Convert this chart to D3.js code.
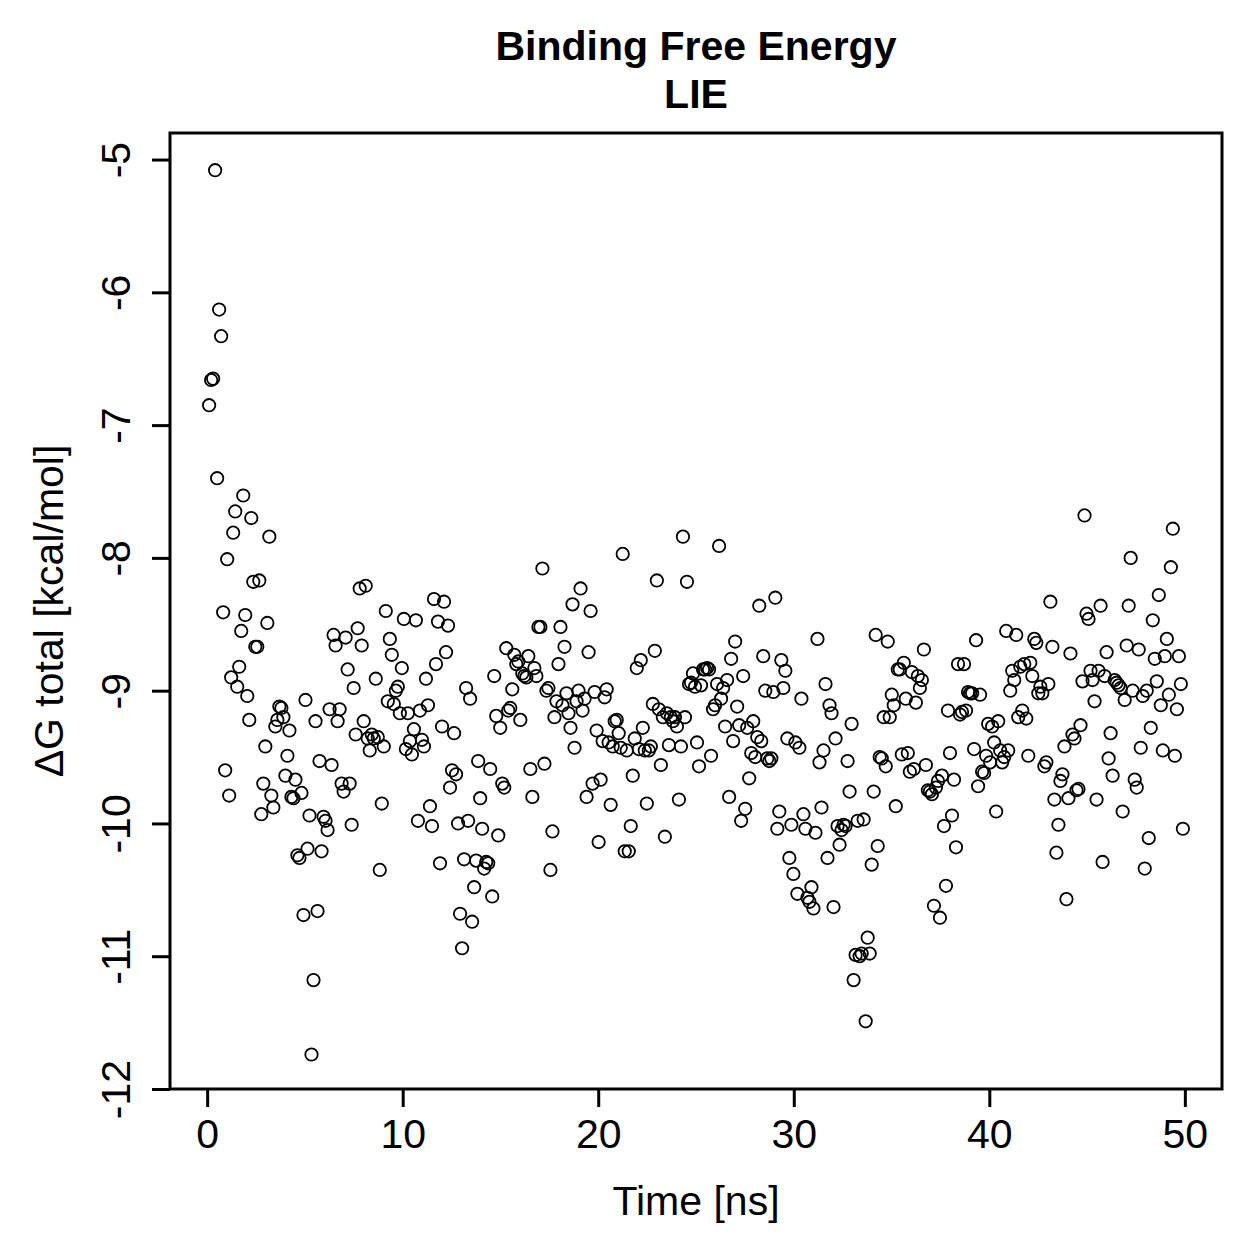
<!DOCTYPE html>
<html>
<head>
<meta charset="utf-8">
<script src="https://cdn.jsdelivr.net/npm/d3@7"></script>
<style>
  body { margin: 0; background: #fff; }
  svg text { font-family: "Liberation Sans", Arial, Helvetica, sans-serif; fill: #000; }
</style>
</head>
<body>
<div class="chart"></div>
<script>
const width = 1259
const height = 1259

// LIE binding free energy per frame (kcal/mol)
const dG = [
  -6.85, -6.66, -6.65, -5.08, -7.40, -6.13, -6.33, -8.41, -9.60, -8.01,
  -9.79, -8.90, -7.81, -7.65, -8.97, -8.82, -8.55, -7.53, -8.43, -9.04,
  -9.22, -7.70, -8.18, -8.67, -8.67, -8.17, -9.93, -9.70, -9.42, -8.49,
  -7.84, -9.79, -9.88, -9.27, -9.22, -9.12, -9.13, -9.20, -9.64, -9.49,
  -9.30, -9.80, -9.81, -9.67, -10.24, -10.26, -9.77, -10.69, -9.07, -10.19,
  -9.94, -11.74, -11.18, -9.23, -10.66, -9.53, -10.21, -9.95, -9.98, -10.05,
  -9.14, -9.56, -8.58, -8.66, -9.23, -9.14, -9.70, -9.76, -8.60, -8.84,
  -9.70, -10.01, -8.98, -9.33, -8.53, -8.23, -8.66, -9.23, -8.21, -9.36,
  -9.45, -9.33, -9.36, -8.91, -9.35, -10.35, -9.85, -9.42, -8.40, -9.08,
  -8.61, -8.73, -9.10, -9.00, -8.97, -9.17, -8.83, -8.46, -9.44, -9.17,
  -9.38, -9.48, -9.29, -8.47, -9.98, -9.15, -9.37, -9.42, -8.91, -9.11,
  -9.87, -10.02, -8.31, -8.80, -8.48, -10.30, -9.27, -8.33, -8.71, -8.51,
  -9.73, -9.60, -9.32, -9.63, -10.00, -10.68, -10.94, -10.27, -8.98, -9.98,
  -9.06, -10.74, -10.48, -10.28, -9.53, -9.81, -10.04, -10.34, -10.29, -10.30,
  -9.59, -10.55, -8.89, -9.19, -10.09, -9.28, -9.70, -9.73, -8.68, -9.15,
  -9.13, -8.99, -8.73, -8.80, -8.78, -9.22, -8.87, -8.89, -8.90, -8.74,
  -9.59, -9.80, -8.83, -8.89, -8.52, -8.52, -8.08, -9.55, -9.00, -8.98,
  -10.35, -10.06, -9.20, -9.08, -8.80, -8.52, -9.11, -8.67, -9.02, -9.17,
  -9.28, -8.35, -9.43, -9.08, -9.00, -8.23, -9.15, -9.06, -9.80, -8.71,
  -8.40, -9.70, -9.01, -9.30, -10.14, -9.67, -9.38, -9.05, -8.99, -9.39,
  -9.86, -9.42, -9.23, -9.22, -9.32, -9.43, -7.97, -10.21, -9.45, -10.21,
  -10.02, -9.64, -9.36, -8.83, -9.44, -8.77, -9.28, -9.45, -9.85, -9.45,
  -9.42, -9.10, -8.70, -8.17, -9.14, -9.56, -9.20, -10.10, -9.17, -9.41,
  -9.20, -9.23, -9.20, -9.27, -9.82, -9.42, -7.84, -9.20, -8.18, -8.95,
  -8.94, -8.87, -8.97, -9.39, -9.57, -8.96, -8.84, -8.84, -8.83, -8.84,
  -9.49, -9.14, -9.11, -8.95, -7.91, -9.06, -8.98, -9.27, -8.92, -9.80,
  -8.76, -9.38, -8.63, -9.12, -9.26, -9.98, -8.89, -9.89, -9.28, -9.66,
  -9.47, -9.23, -9.50, -9.35, -8.36, -9.38, -8.74, -9.00, -9.51, -9.53,
  -9.51, -9.01, -8.30, -10.04, -9.91, -8.77, -8.98, -8.85, -9.36, -10.26,
  -10.01, -10.38, -9.39, -10.53, -9.43, -9.06, -9.93, -10.04, -10.56, -10.59,
  -10.48, -10.64, -10.07, -8.61, -9.54, -9.88, -9.45, -8.95, -10.26, -9.11,
  -9.17, -10.63, -9.36, -10.02, -10.16, -10.05, -10.01, -10.02, -9.53, -9.76,
  -9.25, -11.18, -10.99, -9.98, -11.00, -10.98, -9.97, -11.49, -10.86, -10.98,
  -10.31, -9.76, -8.58, -10.17, -9.50, -9.51, -9.20, -9.57, -8.63, -9.20,
  -9.03, -9.11, -9.87, -8.84, -8.84, -9.48, -8.79, -9.06, -9.47, -9.61,
  -8.86, -9.59, -9.09, -8.89, -8.98, -8.92, -8.69, -9.56, -9.75, -9.76,
  -9.78, -10.62, -9.73, -9.68, -10.71, -9.64, -10.02, -10.47, -9.15, -9.47,
  -9.94, -9.67, -10.18, -8.80, -9.18, -9.16, -8.80, -9.15, -9.01, -9.02,
  -9.02, -9.44, -8.62, -9.72, -9.03, -9.61, -9.62, -9.49, -9.25, -9.54,
  -9.27, -9.39, -9.91, -9.23, -9.45, -9.54, -9.50, -8.55, -9.45, -9.00,
  -8.85, -8.92, -8.58, -9.20, -8.82, -9.15, -8.80, -9.21, -9.49, -8.79,
  -8.89, -8.61, -8.64, -9.02, -8.97, -9.02, -9.57, -9.54, -8.95, -8.33,
  -8.67, -9.82, -10.22, -10.01, -9.68, -9.63, -9.42, -10.57, -9.81, -8.72,
  -9.33, -9.36, -9.75, -9.74, -9.26, -8.93, -7.68, -8.42, -8.46, -8.85,
  -8.92, -9.08, -9.82, -8.85, -8.36, -10.29, -8.89, -8.71, -9.51, -9.32,
  -9.64, -8.92, -8.94, -8.96, -8.98, -9.91, -9.07, -8.66, -8.36, -8.00,
  -9.00, -9.67, -9.73, -8.69, -9.43, -9.04, -10.34, -9.00, -10.11, -9.28,
  -8.47, -8.76, -8.93, -8.28, -9.11, -9.45, -8.74, -8.61, -9.03, -8.07,
  -7.78, -9.49, -9.14, -8.74, -8.95, -10.04
]

// frames are sampled evenly over the run (ns)
const timeFirst = 0.1
const timeLast = 49.9
const time = dG.map((d, i) => timeFirst + i * (timeLast - timeFirst) / (dG.length - 1))

const xTicks = [0, 10, 20, 30, 40, 50]
const yTicks = [-12, -11, -10, -9, -8, -7, -6, -5]
const titleLines = ["Binding Free Energy", "LIE"]
const xLabel = "Time [ns]"
const yLabel = "\u0394G total [kcal/mol]"

// plot region (R style box)
const box = { left: 170, right: 1222, top: 133, bottom: 1089 }

const svg = d3.select('.chart')
    .append('svg')
    .attr('width', width)
    .attr('height', height)

const x = d3.scaleLinear()
    .domain([-1.9, 51.9])
    .range([box.left, box.right])

const y = d3.scaleLinear()
    .domain([-12, -4.8])
    .range([box.bottom, box.top])

// points
svg.append("g")
    .selectAll("circle")
    .data(dG)
    .join("circle")
        .attr("cx", (d, i) => x(time[i]))
        .attr("cy", d => y(d))
        .attr("r", 6.2)
        .attr("fill", "none")
        .attr("stroke", "#000")
        .attr("stroke-width", 1.8)

// x axis
const xAxis = svg.append("g")
    .attr("transform", `translate(0, ${box.bottom})`)
    .call(d3.axisBottom(x).tickValues(xTicks).tickSize(18).tickPadding(12).tickFormat(d => String(d)))
xAxis.select(".domain").remove()
xAxis.selectAll("line").attr("stroke-width", 3)
xAxis.selectAll("text")
    .attr("font-size", "41px")
    .attr("font-family", "Liberation Sans, Arial, sans-serif")
    .attr("fill", "#000")

// y axis, labels rotated like R's default las=0
const yAxis = svg.append("g")
    .attr("transform", `translate(${box.left}, 0)`)
    .call(d3.axisLeft(y).tickValues(yTicks).tickSize(18).tickFormat(d => String(d)))
yAxis.select(".domain").remove()
yAxis.selectAll("line").attr("stroke-width", 3)
yAxis.selectAll("text")
    .attr("font-size", "41px")
    .attr("font-family", "Liberation Sans, Arial, sans-serif")
    .attr("fill", "#000")
    .attr("x", null)
    .attr("dy", null)
    .attr("text-anchor", "middle")
    .attr("transform", "translate(-40, 0) rotate(-90)")

// box
svg.append("rect")
    .attr("x", box.left)
    .attr("y", box.top)
    .attr("width", box.right - box.left)
    .attr("height", box.bottom - box.top)
    .attr("fill", "none")
    .attr("stroke", "#000")
    .attr("stroke-width", 3)

// titles
const cx = (box.left + box.right) / 2
svg.selectAll(".title")
    .data(titleLines)
    .join("text")
        .attr("class", "title")
        .attr("x", cx)
        .attr("y", (d, i) => 60 + i * 48)
        .attr("text-anchor", "middle")
        .attr("font-size", "41px")
        .attr("font-weight", "bold")
        .text(d => d)

svg.append("text")
    .attr("x", cx)
    .attr("y", 1215)
    .attr("text-anchor", "middle")
    .attr("font-size", "41px")
    .text(xLabel)

svg.append("text")
    .attr("transform", `translate(63, ${(box.top + box.bottom) / 2}) rotate(-90)`)
    .attr("text-anchor", "middle")
    .attr("font-size", "41px")
    .text(yLabel)
</script>
</body>
</html>
